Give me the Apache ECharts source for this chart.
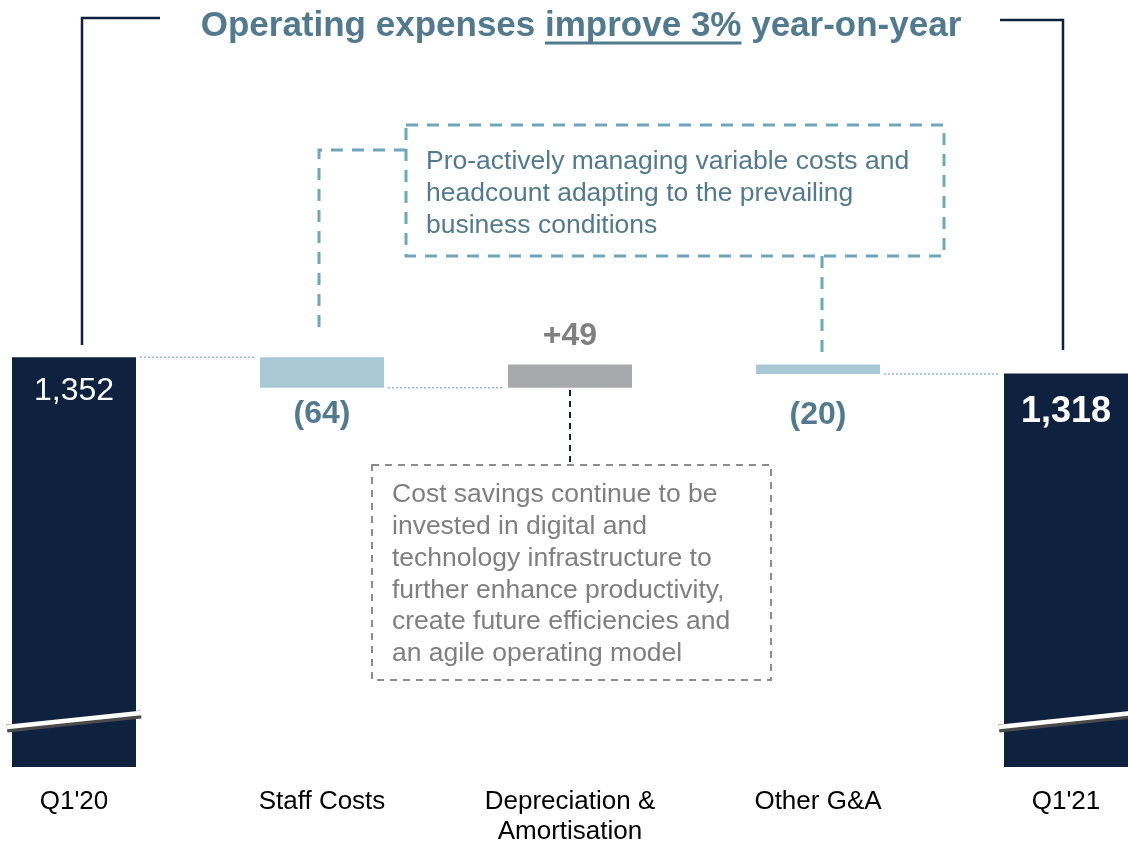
<!DOCTYPE html>
<html>
<head>
<meta charset="utf-8">
<script src="https://cdn.jsdelivr.net/npm/echarts@6/dist/echarts.min.js"></script>
<style>
  html, body { margin: 0; padding: 0; background: #fff; }
  #chart { width: 1128px; height: 842px; }
</style>
</head>
<body>
<div id="chart"></div>
<script>
// data
const categories = ["Q1'20", 'Staff Costs', 'Depreciation &\nAmortisation', 'Other G&A', "Q1'21"]
const startTotal = 1352
const endTotal = 1318
const changes = [-64, 49, -20]
const changeLabels = ['(64)', '+49', '(20)']
const connectors = [[0, 1], [1, 2], [3, 4]] // dotted links between bars

const yMin = 490
const yMax = 1500
const FONT = "'Liberation Sans', Arial, sans-serif"
const NAVY = '#0e2240'
const LIGHT = '#a7c8d4'
const GREY = '#a8a9ab'
const STEEL = '#527a8f'

// waterfall bases and heights
const bases = [0]
const heights = [startTotal]
const levels = [startTotal] // level after each step
let running = startTotal
changes.forEach(c => {
  const next = running + c
  bases.push(Math.min(running, next))
  heights.push(Math.abs(c))
  running = next
  levels.push(running)
})
bases.push(0)
heights.push(endTotal)
levels.push(endTotal)

const barColors = [NAVY, LIGHT, GREY, LIGHT, NAVY]
const changeDist = [10, 12, 25]

const valueData = heights.map((h, i) => {
  const item = { value: h, itemStyle: { color: barColors[i] } }
  if (i === 0) {
    item.label = { show: true, position: 'insideTop', distance: 18, formatter: '1,352', color: '#fff', fontSize: 32, fontFamily: FONT }
  } else if (i === 4) {
    item.label = { show: true, position: 'insideTop', distance: 21, formatter: '1,318', color: '#fff', fontSize: 36, fontWeight: 'bold', fontFamily: FONT }
  } else {
    const c = changes[i - 1]
    item.label = {
      show: true,
      position: c > 0 ? 'top' : 'bottom',
      distance: changeDist[i - 1],
      formatter: changeLabels[i - 1],
      color: c > 0 ? '#808080' : STEEL,
      fontSize: 32,
      fontWeight: 'bold',
      fontFamily: FONT
    }
  }
  return item
})

// connector line levels
const connectorData = connectors.map(([a, b]) => [a, b, levels[a]])

// title pieces, measured so the underline sits under "improve 3%"
const titleParts = ['Operating expenses ', 'improve 3%', ' year-on-year']
const TITLE_FONT = 'bold 35px ' + FONT
const mctx = document.createElement('canvas').getContext('2d')
mctx.font = TITLE_FONT
const widths = titleParts.map(t => mctx.measureText(t).width)
const titleW = widths.reduce((s, w) => s + w, 0)
const titleX0 = 581 - titleW / 2
const titleY = 27

const chart = echarts.init(document.getElementById('chart'))

const dashBlue = { stroke: '#6fa6bb', lineWidth: 3, lineDash: [12, 9], fill: null }
const dashGrey = { stroke: '#8c8c8c', lineWidth: 2, lineDash: [7, 6], fill: null }

chart.setOption({
  animation: false,
  backgroundColor: '#fff',
  grid: { left: -50, right: -62, top: 287, bottom: 75, outerBoundsMode: 'none', containLabel: false },
  xAxis: {
    type: 'category',
    data: categories,
    axisLine: { show: false },
    axisTick: { show: false },
    axisLabel: { color: '#000', fontSize: 26, fontFamily: FONT, margin: 20, lineHeight: 30, interval: 0 }
  },
  yAxis: {
    type: 'value',
    min: yMin,
    max: yMax,
    show: false,
    splitLine: { show: false }
  },
  series: [
    {
      name: 'base',
      type: 'bar',
      stack: 'wf',
      barWidth: '50%',
      itemStyle: { color: 'transparent' },
      silent: true,
      data: bases
    },
    {
      name: 'value',
      type: 'bar',
      stack: 'wf',
      barWidth: '50%',
      data: valueData
    },
    {
      name: 'connectors',
      type: 'custom',
      silent: true,
      data: connectorData,
      renderItem: (params, api) => {
        const bw = api.size([1, 0])[0] * 0.5
        const p1 = api.coord([api.value(0), api.value(2)])
        const p2 = api.coord([api.value(1), api.value(2)])
        return {
          type: 'line',
          shape: { x1: p1[0] + bw / 2 + 4, y1: p1[1], x2: p2[0] - bw / 2 - 4, y2: p2[1] },
          style: { stroke: '#93bccb', lineWidth: 1.5, lineDash: [2, 2] }
        }
      }
    },
    {
      name: 'breaks',
      type: 'custom',
      silent: true,
      data: [[0, yMin], [4, yMin]],
      z: 5,
      renderItem: (params, api) => {
        const bw = api.size([1, 0])[0] * 0.5
        const p = api.coord([api.value(0), api.value(1)])
        const x1 = p[0] - bw / 2 - 5
        const x2 = p[0] + bw / 2 + 5
        const y1 = p[1] - 40
        const y2 = p[1] - 54
        return {
          type: 'group',
          children: [
            { type: 'line', shape: { x1: x1, y1: y1 + 1.5, x2: x2, y2: y2 + 1.5 }, style: { stroke: '#4a4a4a', lineWidth: 8 } },
            { type: 'line', shape: { x1: x1, y1: y1, x2: x2, y2: y2 }, style: { stroke: '#fff', lineWidth: 4.5 } }
          ]
        }
      }
    }
  ],
  graphic: [
    // title
    { type: 'text', left: titleX0, top: titleY - 18, style: { text: titleParts[0], fill: STEEL, font: TITLE_FONT } },
    { type: 'text', left: titleX0 + widths[0], top: titleY - 18, style: { text: titleParts[1], fill: STEEL, font: TITLE_FONT } },
    { type: 'text', left: titleX0 + widths[0] + widths[1], top: titleY - 18, style: { text: titleParts[2], fill: STEEL, font: TITLE_FONT } },
    { type: 'line', shape: { x1: titleX0 + widths[0], y1: 43, x2: titleX0 + widths[0] + widths[1], y2: 43 }, style: { stroke: STEEL, lineWidth: 3 } },
    // bracket lines
    { type: 'polyline', shape: { points: [[82, 345], [82, 18], [160, 18]] }, style: { stroke: NAVY, lineWidth: 2.5, fill: null } },
    { type: 'polyline', shape: { points: [[1000, 20], [1063, 20], [1063, 350]] }, style: { stroke: NAVY, lineWidth: 2.5, fill: null } },
    // staff costs / G&A note
    { type: 'rect', shape: { x: 406, y: 125, width: 538, height: 131 }, style: dashBlue },
    { type: 'polyline', shape: { points: [[406, 150], [319, 150], [319, 334]] }, style: dashBlue },
    { type: 'line', shape: { x1: 822, y1: 256, x2: 822, y2: 352 }, style: dashBlue },
    {
      type: 'text', left: 426, top: 146,
      style: {
        text: 'Pro-actively managing variable costs and\nheadcount adapting to the prevailing\nbusiness conditions',
        fill: STEEL, font: '26.5px ' + FONT, lineHeight: 32
      }
    },
    // depreciation note
    { type: 'line', shape: { x1: 570, y1: 390, x2: 570, y2: 465 }, style: { stroke: NAVY, lineWidth: 2, lineDash: [6, 5] } },
    { type: 'rect', shape: { x: 372, y: 465, width: 399, height: 215 }, style: dashGrey },
    {
      type: 'text', left: 392, top: 479,
      style: {
        text: 'Cost savings continue to be\ninvested in digital and\ntechnology infrastructure to\nfurther enhance productivity,\ncreate future efficiencies and\nan agile operating model',
        fill: '#7f7f7f', font: '26.5px ' + FONT, lineHeight: 31.8
      }
    }
  ]
})
</script>
</body>
</html>
